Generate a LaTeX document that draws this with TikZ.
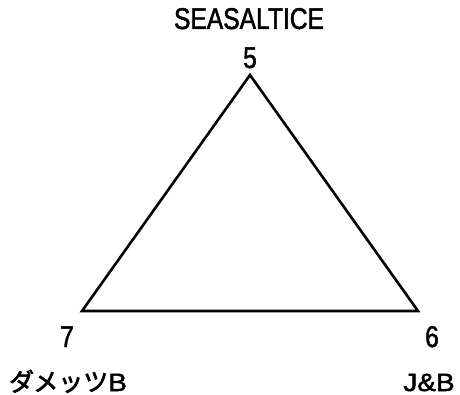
\documentclass[tikz,border=0pt]{standalone}
\usepackage{fontspec}
\setmainfont{Liberation Sans}[FakeStretch=1.12, FakeBold=2]
\newfontfamily\gothfont{Liberation Sans}[FakeStretch=0.82, FakeBold=1.5]
\newfontfamily\jpfont{Noto Sans CJK JP}[FakeBold=2.5]
\tikzset{
  vlabel/.style={anchor=base, inner sep=0pt, font=\gothfont\fontsize{30}{30}\selectfont},
  nlabel/.style={anchor=base, inner sep=0pt, font=\fontsize{25}{25}\selectfont},
}
\begin{document}
\begin{tikzpicture}[x=1pt, y=-1pt, line width=2.6pt]
\useasboundingbox (0,0) rectangle (460,395);

\coordinate (c5) at (250, 75);
\coordinate (c7) at (82, 311);
\coordinate (c6) at (418, 311);

\draw[line join=miter] (c5) -- (c6) -- (c7) -- cycle;

\node[vlabel] (t5) at (249, 29) {SEASALTICE};
\node[vlabel] (n5) at (250, 68) {5};
\node[vlabel] (n7) at (67, 347) {7};
\node[vlabel] (n6) at (432, 347) {6};

\node[nlabel] (t7) at (68, 391) {{\jpfont ダメッツ}B};
\node[nlabel] (t6) at (429, 391) {J\&B};
\end{tikzpicture}
\end{document}
